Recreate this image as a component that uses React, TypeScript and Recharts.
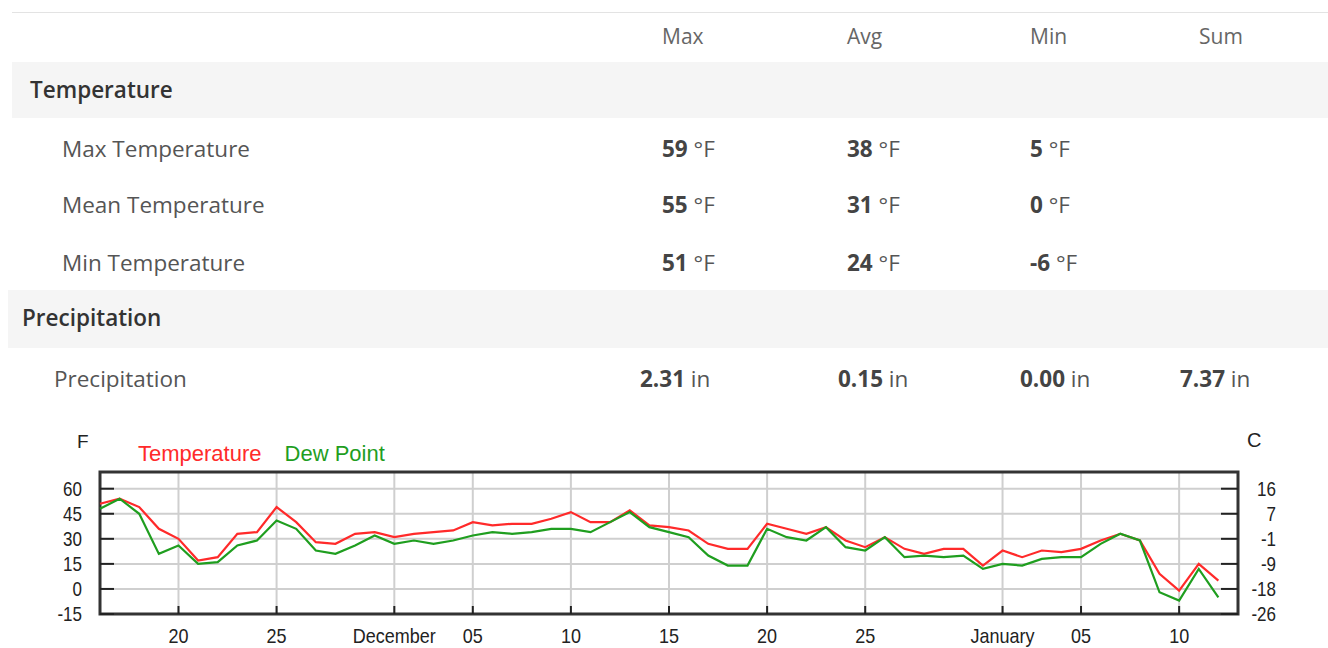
import React from 'react';
import { LineChart, Line, XAxis, YAxis, CartesianGrid, ReferenceArea, Legend } from 'recharts';

// ---- table data ----
const columns = ['Max', 'Avg', 'Min', 'Sum'];
const tempLabels = ['Max Temperature', 'Mean Temperature', 'Min Temperature'];
const tempMax = ['59', '55', '51'];
const tempAvg = ['38', '31', '24'];
const tempMin = ['5', '0', '-6'];
const precipLabel = 'Precipitation';
const precipValues = ['2.31', '0.15', '0.00', '7.37'];

// ---- chart data (daily, Nov 16 .. Jan 12) ----
const temperature = [
  51, 54, 49, 36, 30, 17, 19, 33, 34, 49, 40, 28, 27, 33, 34, 31, 33, 34, 35, 40,
  38, 39, 39, 42, 46, 40, 40, 47, 38, 37, 35, 27, 24, 24, 39, 36, 33, 37, 29, 25,
  31, 24, 21, 24, 24, 14, 23, 19, 23, 22, 24, 29, 33, 29, 9, -1, 15, 5,
];
const dewPoint = [
  48, 54, 45, 21, 26, 15, 16, 26, 29, 41, 36, 23, 21, 26, 32, 27, 29, 27, 29, 32,
  34, 33, 34, 36, 36, 34, 40, 46, 37, 34, 31, 20, 14, 14, 36, 31, 29, 37, 25, 23,
  31, 19, 20, 19, 20, 12, 15, 14, 18, 19, 19, 27, 33, 29, -2, -7, 12, -5,
];
const legendOrder = ['Temperature', 'Dew Point'];
const xTickDays = [4, 9, 15, 19, 24, 29, 34, 39, 46, 50, 55];
const xTickLabels = ['20', '25', 'December', '05', '10', '15', '20', '25', 'January', '05', '10'];
const yTicksF = [-15, 0, 15, 30, 45, 60];
const yTickLabelsC = ['-26', '-18', '-9', '-1', '7', '16'];

const data = temperature.map((t, i) => ({ day: i, temperature: t, dew: dewPoint[i] }));

const TABLE_FONT = '"Open Sans", "Noto Sans", sans-serif';
const CHART_FONT = '"Liberation Sans", Arial, sans-serif';

const Cell = ({ left, cy, children, style }: any) => (
  <div
    style={{
      position: 'absolute',
      left,
      top: cy - 20,
      height: 40,
      display: 'flex',
      alignItems: 'center',
      whiteSpace: 'nowrap',
      fontFamily: TABLE_FONT,
      fontSize: 22.5,
      ...style,
    }}
  >
    {children}
  </div>
);

const Val = ({ v, unit }: { v: string; unit: string }) => (
  <span>
    <span style={{ fontWeight: 700, color: '#444' }}>{v}</span>
    <span style={{ fontWeight: 400, color: '#555' }}>{' ' + unit}</span>
  </span>
);

const XTick = (props: any) => {
  const { x, y, payload } = props;
  const idx = xTickDays.indexOf(payload.value);
  return (
    <g>
      <line x1={x} y1={y} x2={x} y2={y - 8} stroke="#222" strokeWidth={2} />
      <text
        transform={`translate(${x},${y + 29}) scale(0.9,1)`}
        textAnchor="middle"
        fontFamily={CHART_FONT}
        fontSize={20}
        fill="#222"
      >
        {idx >= 0 ? xTickLabels[idx] : ''}
      </text>
    </g>
  );
};

const LeftTick = (props: any) => {
  const { x, y, payload } = props;
  return (
    <g>
      <line x1={x} y1={y} x2={x + 14} y2={y} stroke="#222" strokeWidth={2} />
      <text
        transform={`translate(${x - 18},${y + 7}) scale(0.85,1)`}
        textAnchor="end"
        fontFamily={CHART_FONT}
        fontSize={20}
        fill="#222"
      >
        {String(payload.value)}
      </text>
    </g>
  );
};

const RightTick = (props: any) => {
  const { x, y, payload } = props;
  const idx = yTicksF.indexOf(payload.value);
  return (
    <g>
      <line x1={x} y1={y} x2={x - 17} y2={y} stroke="#222" strokeWidth={2} />
      <text
        transform={`translate(${x + 38},${y + 7}) scale(0.85,1)`}
        textAnchor="end"
        fontFamily={CHART_FONT}
        fontSize={20}
        fill="#222"
      >
        {idx >= 0 ? yTickLabelsC[idx] : ''}
      </text>
    </g>
  );
};

const renderLegend = (props: any) => {
  const items = [...(props.payload || [])].sort(
    (a: any, b: any) => legendOrder.indexOf(a.value) - legendOrder.indexOf(b.value)
  );
  return (
    <div style={{ display: 'flex', gap: 23, fontFamily: CHART_FONT, fontSize: 22, lineHeight: '25px' }}>
      {items.map((p: any) => (
        <span key={p.value} style={{ color: p.color }}>
          {p.value}
        </span>
      ))}
    </div>
  );
};

export default function App() {
  return (
    <div style={{ position: 'absolute', left: 0, top: 0, width: 1328, height: 648, background: '#fff', overflow: 'hidden' }}>
      {/* table */}
      <div style={{ position: 'absolute', left: 12, top: 12, width: 1316, height: 1, background: '#e3e3e3' }} />
      {columns.map((c, i) => (
        <Cell key={c} left={[662, 847, 1030, 1199][i]} cy={36} style={{ color: '#666', fontSize: 21 }}>
          {c}
        </Cell>
      ))}
      <div style={{ position: 'absolute', left: 12, top: 62, width: 1316, height: 56, background: '#f5f5f5' }} />
      <Cell left={30} cy={89} style={{ fontWeight: 600, color: '#333' }}>
        Temperature
      </Cell>
      {tempLabels.map((l, i) => (
        <React.Fragment key={l}>
          <Cell left={62} cy={[148, 204, 262][i]} style={{ color: '#555' }}>
            {l}
          </Cell>
          <Cell left={662} cy={[148, 204, 262][i]}>
            <Val v={tempMax[i]} unit="°F" />
          </Cell>
          <Cell left={847} cy={[148, 204, 262][i]}>
            <Val v={tempAvg[i]} unit="°F" />
          </Cell>
          <Cell left={1030} cy={[148, 204, 262][i]}>
            <Val v={tempMin[i]} unit="°F" />
          </Cell>
        </React.Fragment>
      ))}
      <div style={{ position: 'absolute', left: 8, top: 290, width: 1320, height: 58, background: '#f5f5f5' }} />
      <Cell left={22} cy={317} style={{ fontWeight: 600, color: '#333' }}>
        Precipitation
      </Cell>
      <Cell left={54} cy={378} style={{ color: '#555' }}>
        {precipLabel}
      </Cell>
      {precipValues.map((v, i) => (
        <Cell key={i} left={[640, 838, 1020, 1180][i]} cy={378}>
          <Val v={v} unit="in" />
        </Cell>
      ))}

      {/* chart */}
      <div style={{ position: 'absolute', left: 77, top: 431, fontFamily: CHART_FONT, fontSize: 19, color: '#222' }}>F</div>
      <div style={{ position: 'absolute', left: 1247, top: 429, fontFamily: CHART_FONT, fontSize: 20, color: '#222' }}>C</div>
      <div style={{ position: 'absolute', left: 0, top: 420 }}>
        <LineChart width={1328} height={228} data={data} margin={{ top: 52, right: 89, bottom: 0, left: 99 }}>
          <CartesianGrid stroke="#cfcfcf" strokeWidth={2} />
          <XAxis
            dataKey="day"
            type="number"
            domain={[0, 58]}
            ticks={xTickDays}
            interval={0}
            height={34}
            axisLine={false}
            tickLine={false}
            tickSize={0}
            tickMargin={0}
            tick={<XTick />}
          />
          <YAxis
            orientation="left"
            type="number"
            domain={[-15, 70]}
            ticks={yTicksF}
            interval={0}
            width={1}
            axisLine={false}
            tickLine={false}
            tickSize={0}
            tickMargin={0}
            tick={<LeftTick />}
          />
          <YAxis
            yAxisId="right"
            orientation="right"
            type="number"
            domain={[-15, 70]}
            ticks={yTicksF}
            interval={0}
            width={1}
            axisLine={false}
            tickLine={false}
            tickSize={0}
            tickMargin={0}
            tick={<RightTick />}
          />
          <Legend
            layout="horizontal"
            verticalAlign="middle"
            align="center"
            content={renderLegend}
            wrapperStyle={{ top: 21, left: 138, width: 'auto', height: 'auto' }}
          />
          <Line
            type="linear"
            dataKey="temperature"
            name="Temperature"
            stroke="#ff2a2a"
            strokeWidth={2.2}
            dot={false}
            isAnimationActive={false}
          />
          <Line
            yAxisId="right"
            type="linear"
            dataKey="dew"
            name="Dew Point"
            stroke="#1f9e1f"
            strokeWidth={2.2}
            dot={false}
            isAnimationActive={false}
          />
          <ReferenceArea
            x1={0}
            x2={58}
            y1={-15}
            y2={70}
            fill="none"
            fillOpacity={0}
            stroke="#333"
            strokeWidth={3}
            ifOverflow="visible"
          />
        </LineChart>
      </div>
    </div>
  );
}
